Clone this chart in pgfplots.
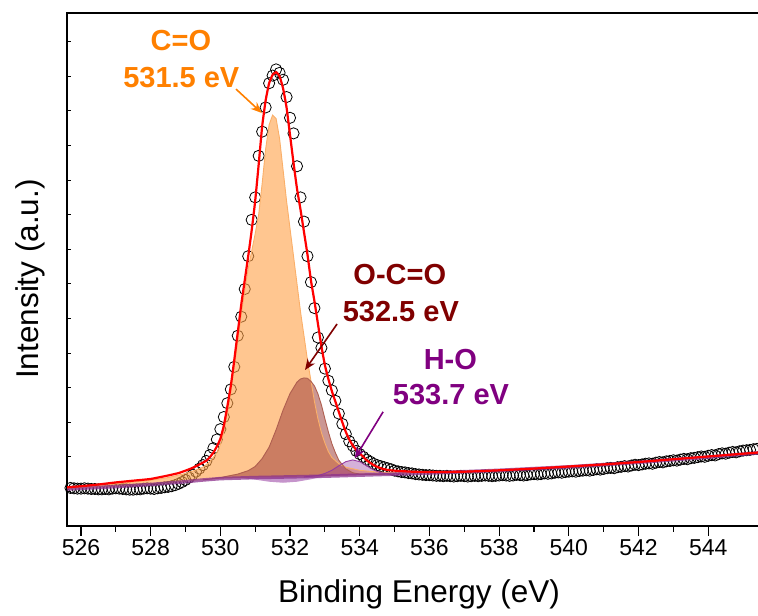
\documentclass[border=0pt]{standalone}
\usepackage{pgfplots}
\pgfplotsset{compat=1.18}
\usepgfplotslibrary{fillbetween}
\usetikzlibrary{arrows.meta}
\usepackage{fontspec}
\setmainfont{Liberation Sans}

\definecolor{cofill}{RGB}{255,160,70}
\definecolor{coedge}{RGB}{250,175,105}
\definecolor{ocofill}{RGB}{160,65,60}
\definecolor{ocoedge}{RGB}{175,95,80}
\definecolor{hofill}{RGB}{150,60,160}
\definecolor{cotext}{RGB}{255,128,0}
\definecolor{ocotext}{RGB}{128,0,0}
\definecolor{hotext}{RGB}{128,0,128}
\definecolor{bgline}{RGB}{140,50,140}

\pgfplotsset{xpsframe/.style={scale only axis, width=693.5pt, height=513pt,
  xmin=525.6, xmax=545.5, ymin=0, ymax=14.83}}
\tikzset{fill between/on layer=main}

\begin{document}
\begin{tikzpicture}
\begin{axis}[xpsframe, name=ax,
  axis line style={line width=1.5pt},
  xtick={526,528,...,544}, minor x tick num=1, xtick pos=left,
  tick align=outside, major tick length=10pt, minor tick length=6pt,
  tick style={black, line width=1.2pt},
  minor tick style={black, line width=1.2pt},
  ytick=\empty,
  xticklabel style={font=\fontsize{23}{24}\selectfont},
  /pgf/number format/assume math mode=true,
  clip mode=individual]

% measured spectrum
\addplot[only marks, mark=o, mark size=5.6pt, mark options={line width=0.8pt, black}] coordinates {
(525.7,1.10)(525.8,1.09)(525.9,1.08)(526.0,1.08)(526.1,1.09)(526.2,1.08)(526.3,1.07)(526.4,1.07)(526.5,1.06)(526.6,1.06)
(526.7,1.07)(526.8,1.06)(526.9,1.08)(527.0,1.09)(527.1,1.08)(527.2,1.07)(527.3,1.06)(527.4,1.05)(527.5,1.05)(527.6,1.06)
(527.7,1.06)(527.8,1.08)(527.9,1.09)(528.0,1.08)(528.1,1.07)(528.2,1.09)(528.3,1.10)(528.4,1.12)(528.5,1.13)(528.6,1.15)
(528.7,1.18)(528.8,1.22)(528.9,1.27)(529.0,1.33)(529.1,1.40)(529.2,1.48)(529.3,1.57)(529.4,1.66)(529.5,1.76)(529.6,1.88)
(529.7,2.05)(529.8,2.25)(529.9,2.50)(530.0,2.80)(530.1,3.15)(530.2,3.55)(530.3,3.95)(530.4,4.60)(530.5,5.50)(530.6,6.05)
(530.7,6.85)(530.8,7.80)(530.9,8.85)(531.0,9.50)(531.1,10.70)(531.2,11.40)(531.3,12.10)(531.4,12.80)(531.5,13.02)(531.6,13.20)
(531.7,13.10)(531.8,12.90)(531.9,12.40)(532.0,11.80)(532.1,11.35)(532.2,10.40)(532.3,9.50)(532.4,8.80)(532.5,7.80)(532.6,7.05)
(532.7,6.30)(532.8,5.45)(532.9,5.15)(533.0,4.55)(533.1,4.20)(533.2,3.92)(533.3,3.62)(533.4,3.25)(533.5,2.95)(533.6,2.66)
(533.7,2.45)(533.8,2.32)(533.9,2.17)(534.0,2.08)(534.1,2.00)(534.2,1.92)(534.3,1.86)(534.4,1.80)(534.5,1.76)(534.6,1.73)
(534.7,1.70)(534.8,1.67)(534.9,1.64)(535.0,1.60)(535.1,1.58)(535.2,1.56)(535.3,1.55)(535.4,1.53)(535.5,1.52)(535.6,1.50)
(535.7,1.49)(535.8,1.48)(535.9,1.47)(536.0,1.47)(536.1,1.46)(536.2,1.45)(536.3,1.45)(536.4,1.44)(536.5,1.45)(536.6,1.44)
(536.7,1.43)(536.8,1.44)(536.9,1.45)(537.0,1.44)(537.1,1.43)(537.2,1.44)(537.3,1.45)(537.4,1.44)(537.5,1.45)(537.6,1.46)
(537.7,1.45)(537.8,1.44)(537.9,1.45)(538.0,1.46)(538.1,1.47)(538.2,1.46)(538.3,1.45)(538.4,1.46)(538.5,1.48)(538.6,1.47)
(538.7,1.46)(538.8,1.47)(538.9,1.49)(539.0,1.50)(539.1,1.49)(539.2,1.50)(539.3,1.52)(539.4,1.51)(539.5,1.52)(539.6,1.54)
(539.7,1.55)(539.8,1.54)(539.9,1.56)(540.0,1.57)(540.1,1.58)(540.2,1.57)(540.3,1.59)(540.4,1.60)(540.5,1.61)(540.6,1.60)
(540.7,1.62)(540.8,1.64)(540.9,1.63)(541.0,1.65)(541.1,1.67)(541.2,1.68)(541.3,1.67)(541.4,1.70)(541.5,1.71)(541.6,1.73)
(541.7,1.72)(541.8,1.75)(541.9,1.77)(542.0,1.76)(542.1,1.78)(542.2,1.80)(542.3,1.81)(542.4,1.80)(542.5,1.83)(542.6,1.85)
(542.7,1.84)(542.8,1.87)(542.9,1.88)(543.0,1.90)(543.1,1.89)(543.2,1.92)(543.3,1.94)(543.4,1.93)(543.5,1.96)(543.6,1.97)
(543.7,1.99)(543.8,2.01)(543.9,2.00)(544.0,2.03)(544.1,2.05)(544.2,2.04)(544.3,2.08)(544.4,2.10)(544.5,2.09)(544.6,2.12)
(544.7,2.14)(544.8,2.13)(544.9,2.16)(545.0,2.18)(545.1,2.19)(545.2,2.20)(545.3,2.22)(545.4,2.23)
};

% background
\addplot[name path=bg, draw=none] coordinates {
(525.6,1.07)(527,1.14)(528,1.20)(529,1.28)(529.5,1.33)(530,1.37)(531,1.40)(532,1.42)(533,1.44)
(534,1.47)(535,1.50)(536,1.53)(538,1.61)(540,1.71)(542,1.84)(544,1.99)(545.5,2.12)
};
% C=O
\addplot[name path=co, draw=none] coordinates {
(525.6,1.09)(526,1.11)(526.5,1.16)(527,1.22)(527.5,1.27)(528,1.32)(528.5,1.40)(529,1.52)(529.3,1.62)
(529.5,1.70)(529.7,1.86)(529.9,2.12)(530.0,2.35)(530.1,2.72)(530.2,3.25)(530.3,3.85)(530.4,4.60)
(530.5,5.35)(530.6,6.10)(530.7,6.80)(530.8,7.45)(530.9,7.95)(531.0,8.45)(531.1,9.00)(531.2,9.90)
(531.3,10.90)(531.4,11.60)(531.5,11.88)(531.6,11.78)(531.7,11.20)(531.8,10.30)(531.9,9.40)(532.0,8.60)
(532.1,7.80)(532.2,7.00)(532.3,6.20)(532.4,5.50)(532.5,4.80)(532.6,4.20)(532.7,3.60)(532.8,3.10)
(532.9,2.70)(533.0,2.40)(533.1,2.15)(533.2,1.98)(533.4,1.80)(533.6,1.70)(534.0,1.61)(534.5,1.56)
(535,1.54)(536,1.55)(538,1.62)(540,1.72)(542,1.85)(544,2.00)(545.5,2.13)
};
% O-C=O
\addplot[name path=oco, draw=none] coordinates {
(529.5,1.33)(530.0,1.40)(530.5,1.50)(530.8,1.60)(531.0,1.72)(531.2,1.95)(531.4,2.28)(531.6,2.78)
(531.8,3.35)(532.0,3.83)(532.2,4.16)(532.3,4.25)(532.4,4.28)(532.5,4.27)(532.6,4.18)(532.7,4.05)
(532.8,3.82)(532.9,3.50)(533.0,3.10)(533.1,2.72)(533.2,2.38)(533.3,2.12)(533.4,1.90)(533.6,1.65)
(533.8,1.54)(534.0,1.50)(534.5,1.49)(535.0,1.50)
};
% H-O
\addplot[name path=ho, draw=none] coordinates {
(532.4,1.42)(532.8,1.46)(533.0,1.52)(533.2,1.61)(533.4,1.74)(533.6,1.86)(533.8,1.91)(534.0,1.86)
(534.2,1.74)(534.4,1.62)(534.6,1.54)(534.8,1.50)(535.2,1.51)
};
% lower purple band
\addplot[name path=dip, draw=none] coordinates {
(530.6,1.39)(531.0,1.34)(531.4,1.28)(531.8,1.25)(532.2,1.28)(532.6,1.35)(533.0,1.44)
};

\addplot[fill=cofill, fill opacity=0.6, draw=none] fill between[of=co and bg];
\addplot[fill=ocofill, fill opacity=0.55, draw=none] fill between[of=oco and bg, soft clip={domain=529.5:535}];
\addplot[fill=hofill, fill opacity=0.4, draw=none] fill between[of=ho and bg, soft clip={domain=532.4:535.2}];
\addplot[fill=hofill, fill opacity=0.55, draw=none] fill between[of=dip and bg, soft clip={domain=530.6:533}];

\addplot[coedge, line width=0.9pt] coordinates {
(525.6,1.09)(526,1.11)(526.5,1.16)(527,1.22)(527.5,1.27)(528,1.32)(528.5,1.40)(529,1.52)(529.3,1.62)
(529.5,1.70)(529.7,1.86)(529.9,2.12)(530.0,2.35)(530.1,2.72)(530.2,3.25)(530.3,3.85)(530.4,4.60)
(530.5,5.35)(530.6,6.10)(530.7,6.80)(530.8,7.45)(530.9,7.95)(531.0,8.45)(531.1,9.00)(531.2,9.90)
(531.3,10.90)(531.4,11.60)(531.5,11.88)(531.6,11.78)(531.7,11.20)(531.8,10.30)(531.9,9.40)(532.0,8.60)
(532.1,7.80)(532.2,7.00)(532.3,6.20)(532.4,5.50)(532.5,4.80)(532.6,4.20)(532.7,3.60)(532.8,3.10)
(532.9,2.70)(533.0,2.40)(533.1,2.15)(533.2,1.98)(533.4,1.80)(533.6,1.70)(534.0,1.61)(534.5,1.56)
(535,1.54)(536,1.55)(538,1.62)(540,1.72)(542,1.85)(544,2.00)(545.5,2.13)
};
\addplot[ocoedge, line width=0.9pt] coordinates {
(529.5,1.33)(530.0,1.40)(530.5,1.50)(530.8,1.60)(531.0,1.72)(531.2,1.95)(531.4,2.28)(531.6,2.78)
(531.8,3.35)(532.0,3.83)(532.2,4.16)(532.3,4.25)(532.4,4.28)(532.5,4.27)(532.6,4.18)(532.7,4.05)
(532.8,3.82)(532.9,3.50)(533.0,3.10)(533.1,2.72)(533.2,2.38)(533.3,2.12)(533.4,1.90)(533.6,1.65)
(533.8,1.54)(534.0,1.50)(534.5,1.49)(535.0,1.50)
};
\addplot[hofill, line width=0.9pt] coordinates {
(532.4,1.42)(532.8,1.46)(533.0,1.52)(533.2,1.61)(533.4,1.74)(533.6,1.86)(533.8,1.91)(534.0,1.86)
(534.2,1.74)(534.4,1.62)(534.6,1.54)(534.8,1.50)(535.2,1.51)
};
\addplot[bgline, opacity=0.75, line width=3.5pt] coordinates {
(525.6,1.07)(527,1.14)(528,1.20)(529,1.28)(529.5,1.33)(530,1.37)(531,1.40)(532,1.42)(533,1.44)
(534,1.47)(535,1.50)(536,1.53)(538,1.61)(540,1.71)(542,1.84)(544,1.99)(545.5,2.12)
};

% envelope
\addplot[red, line width=2.2pt, smooth, tension=0.3] coordinates {
(525.6,1.12)(526,1.15)(526.5,1.20)(527,1.26)(527.5,1.31)(528,1.36)(528.5,1.46)(528.8,1.53)(529.0,1.60)
(529.2,1.68)(529.4,1.78)(529.6,1.89)(529.7,1.99)(529.8,2.12)(529.9,2.30)(530.0,2.52)(530.1,2.90)
(530.2,3.45)(530.3,4.05)(530.4,4.80)(530.5,5.60)(530.6,6.40)(530.7,7.10)(530.8,7.80)(530.9,8.55)
(531.0,9.40)(531.1,10.45)(531.2,11.55)(531.3,12.30)(531.4,12.80)(531.5,13.04)(531.6,13.12)(531.7,13.00)
(531.8,12.65)(531.9,12.10)(532.0,11.30)(532.1,10.50)(532.2,9.75)(532.3,9.15)(532.4,8.50)(532.5,7.85)
(532.6,7.10)(532.7,6.50)(532.8,5.85)(532.9,5.20)(533.0,4.65)(533.1,4.25)(533.2,3.90)(533.3,3.60)
(533.4,3.30)(533.5,3.00)(533.6,2.72)(533.7,2.50)(533.8,2.33)(533.9,2.20)(534.0,2.10)(534.2,1.90)
(534.4,1.76)(534.6,1.67)(534.8,1.62)(535.0,1.60)(535.5,1.57)(536,1.56)(537,1.57)(538,1.61)(539,1.66)
(540,1.72)(541,1.78)(542,1.85)(543,1.93)(544,2.01)(545,2.09)(545.5,2.13)
};

% annotations
\node[font=\fontsize{29}{30}\selectfont\bfseries, text=cotext, anchor=base] at (axis cs:528.87,13.76) {C=O};
\node[font=\fontsize{29}{30}\selectfont\bfseries, text=cotext, anchor=base] at (axis cs:528.88,12.69) {531.5 eV};
\draw[cotext, line width=1.6pt, -{Stealth[length=11pt,width=9pt]}] (axis cs:530.45,12.63) -- (axis cs:531.19,11.94);
\node[font=\fontsize{29}{30}\selectfont\bfseries, text=ocotext, anchor=base] at (axis cs:535.15,6.97) {O-C=O};
\node[font=\fontsize{29}{30}\selectfont\bfseries, text=ocotext, anchor=base] at (axis cs:535.18,5.90) {532.5 eV};
\draw[ocotext, line width=1.6pt, -{Stealth[length=11pt,width=9pt]}] (axis cs:533.35,5.84) -- (axis cs:532.43,4.51);
\node[font=\fontsize{29}{30}\selectfont\bfseries, text=hotext, anchor=base] at (axis cs:536.60,4.51) {H-O};
\node[font=\fontsize{29}{30}\selectfont\bfseries, text=hotext, anchor=base] at (axis cs:536.62,3.50) {533.7 eV};
\draw[hotext, line width=1.6pt, -{Stealth[length=11pt,width=9pt]}] (axis cs:534.67,3.30) -- (axis cs:533.86,1.96);

\node[font=\fontsize{31.5}{32}\selectfont, anchor=base] at (axis cs:535.7,-2.225) {Binding Energy (eV)};
\node[font=\fontsize{31.5}{32}\selectfont, anchor=base, rotate=90] at (axis cs:524.77,7.14) {Intensity (a.u.)};
\end{axis}

% inward ticks on the intensity axis
\begin{axis}[xpsframe, hide x axis, axis y line*=left, y axis line style={draw=none},
  ytick={0,1,...,14}, yticklabels={}, tick align=inside, major tick length=4pt,
  ytick style={black, line width=1pt}]
\addplot[draw=none] coordinates {(530,1)};
\end{axis}

\pgfresetboundingbox
\path[use as bounding box] (ax.south west) ++(-67pt,-90pt) rectangle ++(758pt,616pt);
\end{tikzpicture}
\end{document}
